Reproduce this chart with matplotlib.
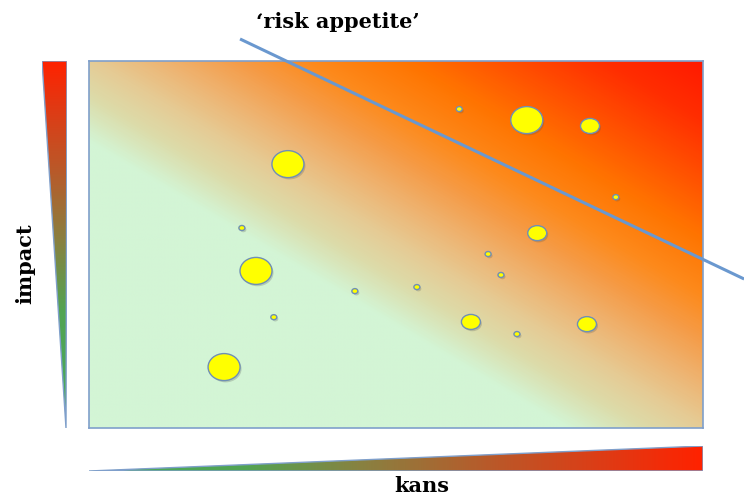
import numpy as np
import matplotlib
matplotlib.use("Agg")
import matplotlib.pyplot as plt
from matplotlib.colors import LinearSegmentedColormap
from matplotlib.patches import Ellipse, Polygon

# bubble data (kans = x, impact = y, both 0-100) and bubble size class
kans = [60.3, 71.3, 81.6, 32.4, 85.8, 24.9, 73.0, 65.0, 27.2, 67.1, 43.3, 53.4, 30.1, 62.2, 69.7, 81.1, 22.0]
impact = [86.9, 83.9, 82.3, 71.9, 62.9, 54.5, 53.1, 47.4, 42.8, 41.7, 37.3, 38.4, 30.2, 28.9, 25.6, 28.3, 16.6]
size_class = [1, 3, 2, 3, 1, 1, 2, 1, 3, 1, 1, 1, 1, 2, 1, 2, 3]

# 'risk appetite' line end points (same 0-100 scale, runs past the box)
risk_x = [24.6, 106.7]
risk_y = [106.0, 40.6]

W, H = 744, 498
fig = plt.figure(figsize=(W / 100, H / 100), dpi=100)

# main box, in pixels: x 89..703, y 61..428
bx0, bx1, by0, by1 = 89, 703, 61, 428
ax = fig.add_axes([bx0 / W, 1 - by1 / H, (bx1 - bx0) / W, (by1 - by0) / H])

bg_cmap = LinearSegmentedColormap.from_list("risk", [
    (0.00, "#d3f5d5"), (0.39, "#d3f5d5"), (0.45, "#dcdcaa"), (0.50, "#e5cc96"),
    (0.56, "#eeb472"), (0.62, "#f59c48"), (0.68, "#fd8a1c"), (0.76, "#ff7400"),
    (0.85, "#ff4c00"), (0.92, "#ff2e00"), (1.00, "#ff1a00")])
u, v = np.meshgrid(np.linspace(0, 1, 400), np.linspace(0, 1, 400))
ax.imshow((u + v) / 2, cmap=bg_cmap, vmin=0, vmax=1, origin="lower",
          extent=[0, 100, 0, 100], aspect="auto", interpolation="bilinear", zorder=0)
ax.set_xlim(0, 100)
ax.set_ylim(0, 100)
ax.set_xticks([])
ax.set_yticks([])
for s in ax.spines.values():
    s.set_color("#7f9fcb")
    s.set_linewidth(1.2)

# bubble diameters in pixels per size class (w, h) -> data units
diam = {1: (6, 5), 2: (19, 15), 3: (32, 27)}
px_x = 100 / (bx1 - bx0)
px_y = 100 / (by1 - by0)
for x, y, c in zip(kans, impact, size_class):
    w, h = diam[c]
    # soft shadow
    ax.add_patch(Ellipse((x + 1.5 * px_x, y - 1.8 * px_y), w * px_x, h * px_y,
                         facecolor="#555555", alpha=0.25, edgecolor="none", zorder=2))
    ax.add_patch(Ellipse((x, y), w * px_x, h * px_y, facecolor="#ffff00",
                         edgecolor="#6f8fb5", linewidth=1.0, zorder=3))

ax.plot(risk_x, risk_y, color="#6a98cf", linewidth=2.2, clip_on=False,
        solid_capstyle="butt", zorder=4)

green_red = LinearSegmentedColormap.from_list("gr", [
    (0.00, "#48aa5c"), (0.25, "#52a452"), (0.45, "#8a8040"), (0.65, "#b85a2a"),
    (0.85, "#e03a14"), (1.00, "#ff2200")])

# left wedge (impact), red on top, green at the tip
axl = fig.add_axes([42 / W, 1 - by1 / H, 25 / W, (by1 - by0) / H])
grad = np.linspace(0, 1, 300).reshape(-1, 1)
im = axl.imshow(grad ** 1.2, cmap=green_red, origin="lower", extent=[0, 1, 0, 1],
                aspect="auto", vmin=0, vmax=1)
tri = Polygon([(0, 1), (1, 1), (0.96, 0)], closed=True, transform=axl.transData,
              facecolor="none", edgecolor="#7f9fcb", linewidth=1.0)
axl.add_patch(tri)
im.set_clip_path(tri)
axl.set_xlim(0, 1)
axl.set_ylim(0, 1)
axl.axis("off")

# bottom wedge (kans), green at the tip, red on the right
axb = fig.add_axes([bx0 / W, 1 - 471 / H, (bx1 - bx0) / W, 25 / H])
grad = np.linspace(0, 1, 300).reshape(1, -1)
im = axb.imshow(grad, cmap=green_red, origin="lower", extent=[0, 1, 0, 1],
                aspect="auto", vmin=0, vmax=1)
tri = Polygon([(0, 0), (1, 0), (1, 1)], closed=True, transform=axb.transData,
              facecolor="none", edgecolor="#7f9fcb", linewidth=1.0)
axb.add_patch(tri)
im.set_clip_path(tri)
axb.set_xlim(0, 1)
axb.set_ylim(0, 1)
axb.axis("off")

font = dict(family="DejaVu Serif", fontweight="bold", color="black")
fig.text(338 / W, 1 - 22 / H, "\u2018risk appetite\u2019", ha="center", va="center",
         fontsize=15, **font)
fig.text(25 / W, 1 - 264 / H, "impact", ha="center", va="center", rotation=90,
         fontsize=15, **font)
fig.text(422 / W, 1 - 486 / H, "kans", ha="center", va="center", fontsize=15, **font)

fig.savefig("out.png", dpi=100)
